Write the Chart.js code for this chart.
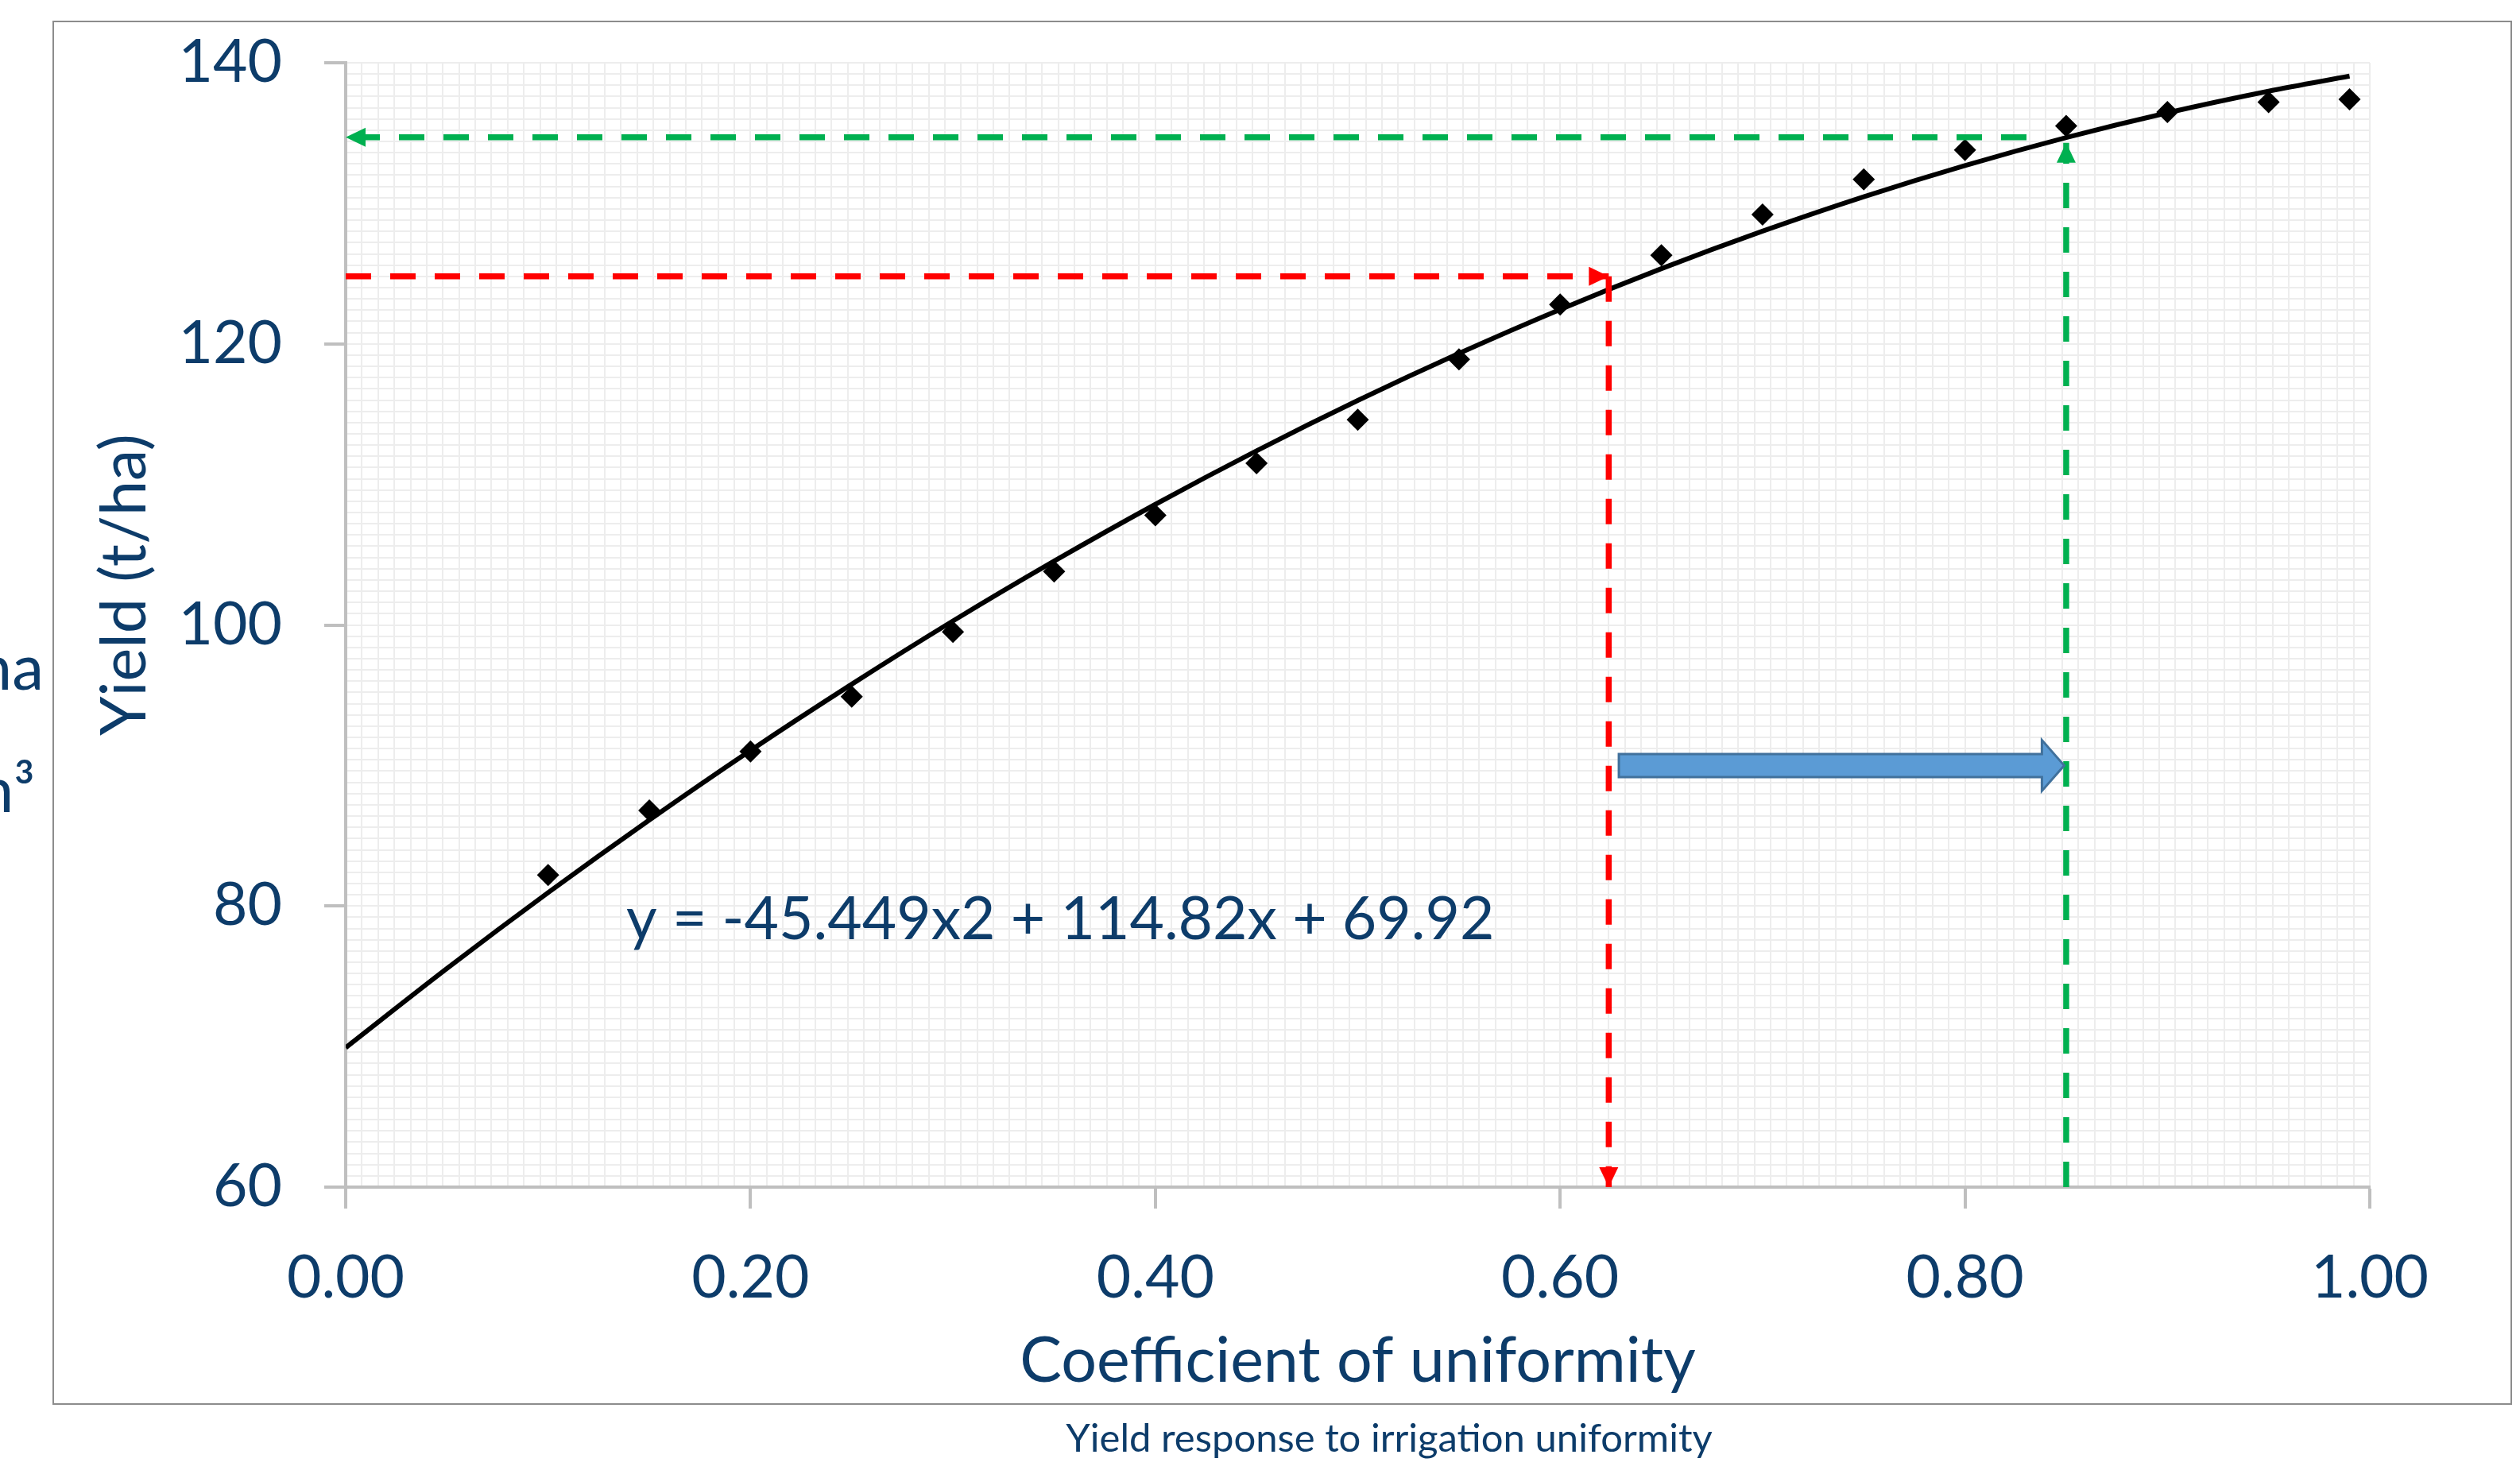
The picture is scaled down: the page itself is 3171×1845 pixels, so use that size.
<!DOCTYPE html>
<html>
<head>
<meta charset="utf-8">
<title>Yield response to irrigation uniformity</title>
<script src="https://cdn.jsdelivr.net/npm/chart.js@4.4.1/dist/chart.umd.min.js"></script>
<style>
html,body{margin:0;padding:0;background:#ffffff;overflow:hidden;}
#wrap{position:relative;width:3171px;height:1845px;}
</style>
</head>
<body>
<div id="wrap"><canvas id="chart"></canvas></div>
<script>
// ---------- data ----------
const uniformity    = [0.10,0.15,0.20,0.25,0.30,0.35,0.40,0.45,0.50,0.55,0.60,0.65,0.70,0.75,0.80,0.85,0.90,0.95,0.99];
const yieldObserved = [82.2,86.8,91.0,94.9,99.5,103.8,107.8,111.5,114.6,118.9,122.8,126.3,129.2,131.7,133.8,135.5,136.5,137.2,137.4];
const trendUniformity = [0,0.05,0.10,0.15,0.20,0.25,0.30,0.35,0.40,0.45,0.50,0.55,0.60,0.65,0.70,0.75,0.80,0.85,0.90,0.95,0.99];
const trendYield      = [69.92,75.55,80.95,86.12,91.07,95.78,100.28,104.54,108.58,112.39,115.97,119.32,122.45,125.35,128.02,130.47,132.69,134.68,136.44,137.98,139.05];
const xMajorTicks  = [0,0.2,0.4,0.6,0.8,1.0];
const xTickLabels  = ['0.00','0.20','0.40','0.60','0.80','1.00'];
const yMajorTicks  = [60,80,100,120,140];
const yTickLabels  = ['60','80','100','120','140'];
// guide arrows
const redHorizontal   = [0, 0.624, 124.8];   // x from, x to, y
const redVertical     = [124.8, 60, 0.624];  // y from, y to, x
const greenVertical   = [60, 134.3, 0.85];   // y from, y to, x
const greenHorizontal = [0.833, 0, 134.7];   // x from, x to, y
const shiftArrow      = [0.629, 0.849, 90];  // x from, x to, y
const equationText = 'y = -45.449x2 + 114.82x + 69.92';
const captionText  = 'Yield response to irrigation uniformity';

const TEXT = '#0d3c6a';
const GRID = '#ededed';
const AXIS = '#bfbfbf';
const FONT = 'Lato';

function matchIndex(v, list){ return list.findIndex(m => Math.abs(m - v) < 1e-6); }

const overlay = {
  id: 'overlay',
  afterDatasetsDraw(chart, args, opts) {
    const {ctx, scales:{x, y}} = chart;
    const px = v => x.getPixelForValue(v), py = v => y.getPixelForValue(v);
    function shaft(x1, y1, x2, y2, color, offset) {
      ctx.save();
      ctx.strokeStyle = color; ctx.lineWidth = 7.5; ctx.lineCap = 'butt';
      ctx.setLineDash([32, 24]); ctx.lineDashOffset = offset || 0;
      ctx.beginPath(); ctx.moveTo(x1, y1); ctx.lineTo(x2, y2); ctx.stroke();
      ctx.restore();
    }
    function head(tx, ty, dx, dy, color) {
      const L = 25, W = 12;
      const bx = tx - dx * L, by = ty - dy * L, nx = -dy, ny = dx;
      ctx.save(); ctx.fillStyle = color; ctx.beginPath();
      ctx.moveTo(tx, ty); ctx.lineTo(bx + nx * W, by + ny * W); ctx.lineTo(bx - nx * W, by - ny * W);
      ctx.closePath(); ctx.fill(); ctx.restore();
    }
    const RED = '#ff0000', GREEN = '#00b050';
    shaft(px(redHorizontal[0]), py(redHorizontal[2]), px(redHorizontal[1]), py(redHorizontal[2]), RED, 0);
    head(px(redHorizontal[1]), py(redHorizontal[2]), 1, 0, RED);
    shaft(px(redVertical[2]), py(redVertical[0]), px(redVertical[2]), py(redVertical[1]), RED, 0);
    head(px(redVertical[2]), py(redVertical[1]), 0, 1, RED);
    shaft(px(greenVertical[2]), py(greenVertical[0]), px(greenVertical[2]), py(greenVertical[1]), GREEN, 0);
    head(px(greenVertical[2]), py(greenVertical[1]), 0, -1, GREEN);
    shaft(px(greenHorizontal[1]), py(greenHorizontal[2]), px(greenHorizontal[0]), py(greenHorizontal[2]), GREEN, 45);
    head(px(greenHorizontal[1]), py(greenHorizontal[2]), -1, 0, GREEN);
    // blue block arrow
    const x0 = px(shiftArrow[0]), x1 = px(shiftArrow[1]), yc = py(shiftArrow[2]);
    const bh = 14.5, hh = 32, hl = 28;
    ctx.save();
    ctx.beginPath();
    ctx.moveTo(x0, yc - bh); ctx.lineTo(x1 - hl, yc - bh); ctx.lineTo(x1 - hl, yc - hh);
    ctx.lineTo(x1, yc); ctx.lineTo(x1 - hl, yc + hh); ctx.lineTo(x1 - hl, yc + bh);
    ctx.lineTo(x0, yc + bh); ctx.closePath();
    ctx.fillStyle = '#5b9bd5'; ctx.fill();
    ctx.lineWidth = 3; ctx.strokeStyle = '#41719c'; ctx.lineJoin = 'miter'; ctx.stroke();
    ctx.restore();
    // trendline equation
    ctx.save();
    ctx.font = `75px ${FONT}`; ctx.fillStyle = TEXT; ctx.textAlign = 'left'; ctx.textBaseline = 'alphabetic';
    ctx.fillText(equationText, px(opts.eqX), py(opts.eqY));
    ctx.restore();
  },
  afterDraw(chart) {
    const {ctx} = chart;
    ctx.save();
    ctx.strokeStyle = '#8c8c8c'; ctx.lineWidth = 2;
    ctx.strokeRect(67, 27, 3093, 1740);
    ctx.fillStyle = TEXT; ctx.textAlign = 'center'; ctx.textBaseline = 'alphabetic';
    ctx.font = `49px ${FONT}`;
    ctx.fillText(captionText, 1748, 1827);
    ctx.textAlign = 'right'; ctx.font = `80px ${FONT}`;
    ctx.fillText('t/ha', 55, 868);
    ctx.fillText('m\u00b3', 44, 1022);
    ctx.restore();
  }
};

function build() {
  const ctx = document.getElementById('chart').getContext('2d');
  new Chart(ctx, {
    type: 'scatter',
    data: {
      datasets: [
        {
          label: 'Yield',
          data: uniformity.map((u, i) => ({x: u, y: yieldObserved[i]})),
          pointStyle: 'rectRot', pointRadius: 14, pointHoverRadius: 14,
          backgroundColor: '#000000', borderColor: '#000000', borderWidth: 0,
          showLine: false, order: 0
        },
        {
          label: 'Poly. (Yield)',
          data: trendUniformity.map((u, i) => ({x: u, y: trendYield[i]})),
          showLine: true, borderColor: '#000000', borderWidth: 6, pointRadius: 0,
          cubicInterpolationMode: 'monotone', fill: false, order: 1
        }
      ]
    },
    options: {
      responsive: true, maintainAspectRatio: false, animation: false,
      devicePixelRatio: 1, events: [],
      layout: {padding: {left: 0, top: 79, right: 189, bottom: 0}},
      plugins: {
        legend: {display: false}, tooltip: {enabled: false}, title: {display: false},
        overlay: {eqX: 0.1386, eqY: 77.65}
      },
      scales: {
        x: {
          type: 'linear', position: 'bottom', min: 0, max: 1,
          afterFit: s => { s.height = 351; },
          ticks: {
            stepSize: 0.008, autoSkip: false, maxRotation: 0, minRotation: 0,
            padding: 43, color: TEXT, font: {family: FONT, size: 75},
            callback: v => { const i = matchIndex(v, xMajorTicks); return i >= 0 ? xTickLabels[i] : ''; }
          },
          grid: {
            color: GRID, lineWidth: 2, tickLength: 27, tickWidth: 4,
            tickColor: c => (c.tick && matchIndex(c.tick.value, xMajorTicks) >= 0) ? AXIS : 'rgba(0,0,0,0)'
          },
          border: {display: true, color: AXIS, width: 4},
          title: {display: true, text: 'Coefficient of uniformity', color: TEXT,
                  font: {family: FONT, size: 79}, padding: {top: 0, bottom: 84}}
        },
        y: {
          type: 'linear', position: 'left', min: 60, max: 140,
          afterFit: s => { s.width = 435; s.paddingTop = 0; s.paddingBottom = 0; },
          ticks: {
            stepSize: 0.8, autoSkip: false, padding: 53, color: TEXT, font: {family: FONT, size: 75},
            callback: v => { const i = matchIndex(v, yMajorTicks); return i >= 0 ? yTickLabels[i] : ''; }
          },
          grid: {
            color: GRID, lineWidth: 2, tickLength: 27, tickWidth: 4,
            tickColor: c => (c.tick && matchIndex(c.tick.value, yMajorTicks) >= 0) ? AXIS : 'rgba(0,0,0,0)'
          },
          border: {display: true, color: AXIS, width: 4},
          title: {display: true, text: '     Yield (t/ha)', color: TEXT,
                  font: {family: FONT, size: 79}, padding: {top: 110, bottom: 0}}
        }
      }
    },
    plugins: [overlay]
  });
}
if (document.fonts && document.fonts.load) {
  document.fonts.load(`79px ${FONT}`).then(build, build);
} else { build(); }
</script>
</body>
</html>
